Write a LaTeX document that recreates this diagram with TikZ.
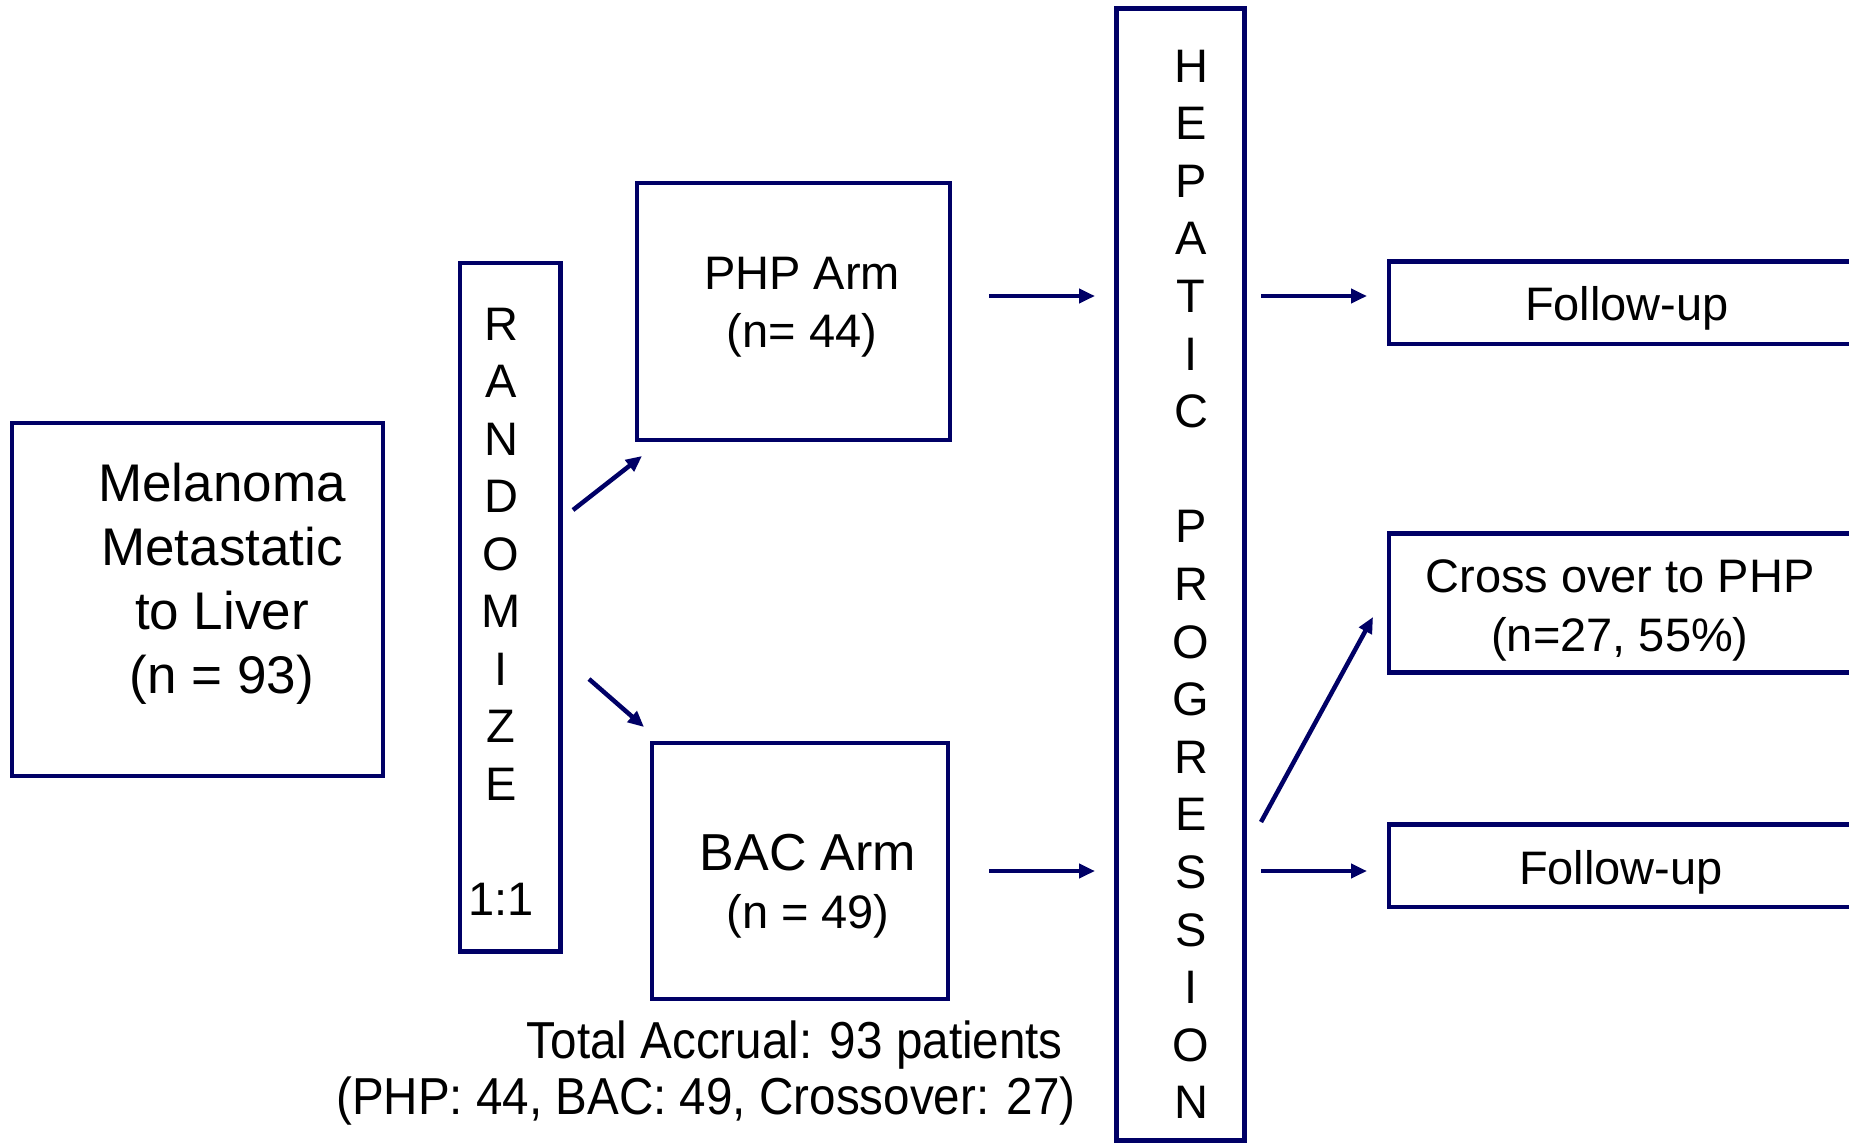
\documentclass[tikz,border=0pt]{standalone}
\usepackage{fontspec}
\setmainfont{Liberation Sans}
\newfontfamily\narrowfont[FakeStretch=0.915]{Liberation Sans}
\usetikzlibrary{arrows.meta}
\definecolor{boxblue}{RGB}{0,0,102}
\newcommand\stackc[1]{\begin{tabular}[t]{@{}c@{}}#1\end{tabular}}
\newcommand\stackr[1]{\begin{tabular}[t]{@{}r@{}}#1\end{tabular}}
\begin{document}
\begin{tikzpicture}[x=1pt,y=-1pt,
  box/.style={draw=boxblue, line width=4.5pt, inner sep=0pt, rectangle},
  lbl/.style={inner sep=0pt, anchor=base, text=black},
  arr/.style={draw=boxblue, line width=4.5pt, -{Triangle[length=16pt,width=14pt]}},
]
\useasboundingbox (0,0) rectangle (1849,1143);
\clip (0,0) rectangle (1849,1143);
\fill[white] (0,0) rectangle (1849,1143);

% boxes
\node[box, minimum width=371pt, minimum height=353pt] (mel) at (197.5,599.5) {};
\node[box, minimum width=100.5pt, minimum height=688.6pt] (rnd) at (510.25,607.3) {};
\node[box, minimum width=313pt, minimum height=257pt] (php) at (793.5,311.5) {};
\node[box, minimum width=296pt, minimum height=256pt] (bac) at (800,871) {};
\node[box, minimum width=128pt, minimum height=1132pt] (hep) at (1180.5,574.5) {};
\node[box, minimum width=511pt, minimum height=82.5pt] (fu1) at (1644.5,302.75) {};
\node[box, minimum width=511pt, minimum height=139pt] (cross) at (1644.5,603) {};
\node[box, minimum width=511pt, minimum height=82.5pt] (fu2) at (1644.5,865.75) {};

% texts
\node[lbl, font=\fontsize{53}{64}\selectfont] (meltxt) at (222,501)
  {\stackc{Melanoma\\Metastatic\\to Liver\\(n = 93)}};
\node[lbl, font=\fontsize{47}{57.5}\selectfont] (rndtxt) at (501,340)
  {\stackc{R\\A\\N\\D\\O\\M\\I\\Z\\E\\ \\1:1}};
\node[lbl, font=\fontsize{47}{58}\selectfont] (phptxt) at (802,289)
  {\stackc{PHP Arm\\(n= 44)}};
\node[lbl, font=\fontsize{47}{58}\selectfont] (bactxt) at (808,870)
  {\stackc{{\fontsize{52}{58}\selectfont BAC Arm}\\(n = 49)}};
\node[lbl, font=\fontsize{47}{57.6}\selectfont] (heptxt) at (1191,82)
  {\stackc{H\\E\\P\\A\\T\\I\\C\\ \\P\\R\\O\\G\\R\\E\\S\\S\\I\\O\\N}};
\node[lbl, font=\fontsize{47}{58}\selectfont] (fu1txt) at (1627,320) {Follow-up};
\node[lbl, font=\fontsize{47}{59}\selectfont] (crosstxt) at (1620,592)
  {\stackc{Cross over to PHP\\(n=27, 55\%)}};
\node[lbl, font=\fontsize{47}{58}\selectfont] (fu2txt) at (1621,884) {Follow-up};
\node[inner sep=0pt, anchor=base east, font=\narrowfont\fontsize{52}{56}\selectfont] (total) at (1076,1058)
  {\stackr{Total Accrual: 93 patients\kern13pt\\(PHP: 44, BAC: 49, Crossover: 27)}};

% connector end points
\coordinate (r1s) at (573,510);  \coordinate (r1e) at (642,456);
\coordinate (r2s) at (589,679);  \coordinate (r2e) at (644,727);
\coordinate (p1s) at (989,296);  \coordinate (p1e) at (1095,296);
\coordinate (h1s) at (1261,296); \coordinate (h1e) at (1367,296);
\coordinate (b1s) at (989,871);  \coordinate (b1e) at (1095,871);
\coordinate (h2s) at (1261,871); \coordinate (h2e) at (1367,871);
\coordinate (h3s) at (1261,822); \coordinate (h3e) at (1373,617);

\draw[arr] (r1s) -- (r1e);
\draw[arr] (r2s) -- (r2e);
\draw[arr] (p1s) -- (p1e);
\draw[arr] (h1s) -- (h1e);
\draw[arr] (b1s) -- (b1e);
\draw[arr] (h2s) -- (h2e);
\draw[arr] (h3s) -- (h3e);
\end{tikzpicture}
\end{document}
